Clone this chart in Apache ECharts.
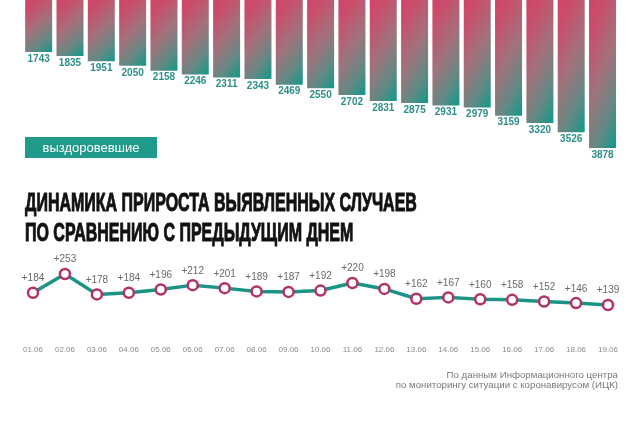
<!DOCTYPE html>
<html>
<head>
<meta charset="utf-8">
<script src="https://cdn.jsdelivr.net/npm/echarts@6/dist/echarts.min.js"></script>
<style>
html,body{margin:0;padding:0;background:#fff;}
#c{width:640px;height:425px;}
</style>
</head>
<body>
<div id="c"></div>
<script>
const dates = ['01.06','02.06','03.06','04.06','05.06','06.06','07.06','08.06','09.06','10.06','11.06','12.06','13.06','14.06','15.06','16.06','17.06','18.06','19.06'];
const recovered = [1743,1835,1951,2050,2158,2246,2311,2343,2469,2550,2702,2831,2875,2931,2979,3159,3320,3526,3878];
const increase = [184,253,178,184,196,212,201,189,187,192,220,198,162,167,160,158,152,146,139];
const titleLines = ['ДИНАМИКА ПРИРОСТА ВЫЯВЛЕННЫХ СЛУЧАЕВ','ПО СРАВНЕНИЮ С ПРЕДЫДУЩИМ ДНЕМ'];
const legendText = 'выздоровевшие';
const sourceLines = ['По данным Информационного центра','по мониторингу ситуации с коронавирусом (ИЦК)'];

const PX_PER_UNIT = 0.04497, BAR_MIN = 587, BAR_MAX = 4000, BAR_W = 27;
function barGradient(v){
  const h = (v - BAR_MIN) * PX_PER_UNIT, w = BAR_W;
  const a = 0.3, b = 0.7;
  const k = 1 / (a*a/(w*w) + b*b/(h*h));
  return {
    type:'linear', x:0, y:0, x2: a*k/(w*w), y2: b*k/(h*h),
    colorStops:[
      {offset:0, color:'#d2436a'},
      {offset:0.18, color:'#c84f6c'},
      {offset:0.5, color:'#a0737d'},
      {offset:0.78, color:'#5f8a84'},
      {offset:1, color:'#0c9a8a'}
    ]
  };
}
const barData = recovered.map(v => ({value:v, itemStyle:{color:barGradient(v)}}));

const chart = echarts.init(document.getElementById('c'), null, {renderer:'canvas'});
const titleStyle = {fill:'#111111', stroke:'#111111', lineWidth:1.0, fontSize:26, fontWeight:'bold', fontFamily:'Liberation Sans Narrow, Liberation Sans, Arial', align:'left', verticalAlign:'middle'};
chart.setOption({
  animation:false,
  backgroundColor:'#ffffff',
  grid:[
    {left:23, right:21.8, top:0, height:(BAR_MAX - BAR_MIN) * PX_PER_UNIT, containLabel:false},
    {left:33, right:32, top:261.2, height:81.6, containLabel:false}
  ],
  xAxis:[
    {type:'category', gridIndex:0, data:dates, show:false},
    {type:'category', gridIndex:1, data:dates, boundaryGap:false,
     axisLine:{show:false}, axisTick:{show:false}, splitLine:{show:false},
     axisLabel:{color:'#8a8a8a', fontSize:8, margin:3, fontFamily:'Liberation Sans, Arial', interval:0}}
  ],
  yAxis:[
    {type:'value', gridIndex:0, min:BAR_MIN, max:BAR_MAX, inverse:true, show:false},
    {type:'value', gridIndex:1, min:0, max:300, show:false}
  ],
  series:[
    {type:'bar', xAxisIndex:0, yAxisIndex:0, data:barData, barWidth:BAR_W, clip:true,
     label:{show:true, position:'bottom', distance:2, color:'#2b8f88', fontSize:10, fontWeight:'bold', fontFamily:'Liberation Sans, Arial'}},
    {type:'line', xAxisIndex:1, yAxisIndex:1, data:increase,
     lineStyle:{color:'#1a9585', width:3.5},
     symbol:'circle', symbolSize:10,
     itemStyle:{color:'#ffffff', borderColor:'#b3306a', borderWidth:2.5},
     label:{show:true, position:'top', distance:3, color:'#6a6a6a', fontSize:10, fontFamily:'Liberation Sans, Arial',
            formatter:p => '+' + p.value}}
  ],
  graphic:[
    {type:'rect', shape:{x:25, y:137, width:132, height:21}, style:{fill:'#1f9a8b'}},
    {type:'text', x:91, y:148, style:{text:legendText, fill:'#ffffff', fontSize:13, fontFamily:'Liberation Sans, Arial', align:'center', verticalAlign:'middle'}},
    {type:'text', x:25, y:204, scaleX:0.615, originX:0, originY:0, style:Object.assign({text:titleLines[0]}, titleStyle)},
    {type:'text', x:25, y:234, scaleX:0.615, originX:0, originY:0, style:Object.assign({text:titleLines[1]}, titleStyle)},
    {type:'text', x:618, y:375, style:{text:sourceLines[0], fill:'#7a7a7a', fontSize:9.7, fontFamily:'Liberation Sans, Arial', align:'right', verticalAlign:'middle'}},
    {type:'text', x:618, y:385, style:{text:sourceLines[1], fill:'#7a7a7a', fontSize:9.7, fontFamily:'Liberation Sans, Arial', align:'right', verticalAlign:'middle'}}
  ]
});
</script>
</body>
</html>
